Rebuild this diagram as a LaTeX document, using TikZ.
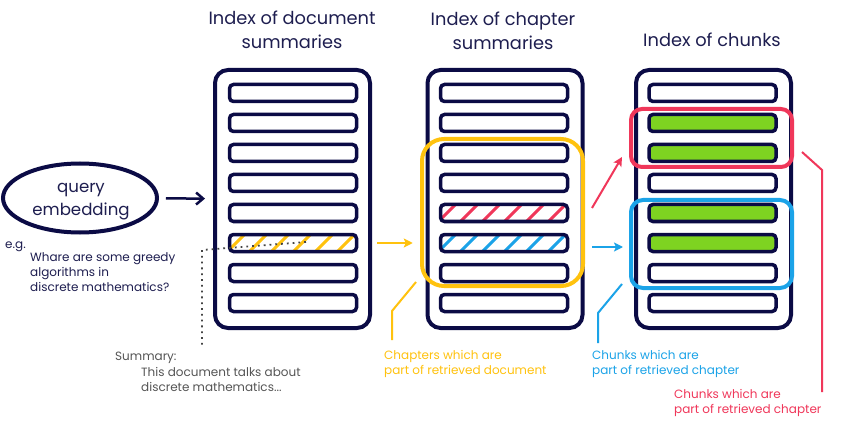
\documentclass[tikz,border=0pt]{standalone}
\usepackage{fontspec}
\setmainfont{Poppins}
\usetikzlibrary{arrows.meta,shapes.geometric}
\definecolor{navy}{HTML}{0B0B45}
\definecolor{titlec}{HTML}{1E1E50}
\definecolor{yellowc}{HTML}{FFC20E}
\definecolor{redc}{HTML}{F0375A}
\definecolor{bluec}{HTML}{1BA3E8}
\definecolor{greenc}{HTML}{7ED321}
\definecolor{greyc}{HTML}{555555}
\tikzset{
  container/.style={draw=navy, line width=4pt, rounded corners=13pt, minimum width=155pt, minimum height=258pt, inner sep=0pt},
  bar/.style={draw=navy, line width=3.5pt, rounded corners=4pt, minimum width=127pt, minimum height=17pt, inner sep=0pt, fill=white},
  plain/.style={},
  hatch/.style={path picture={\foreach \j in {-1,...,6}{\draw[#1, line width=3pt] ([xshift=\j*22pt-2pt]path picture bounding box.south west) -- ++(26pt,26pt);}}},
  yhatch/.style={hatch=yellowc},
  rhatch/.style={hatch=redc},
  bhatch/.style={hatch=bluec},
  gfill/.style={fill=greenc},
  selbox/.style={draw=#1, line width=4pt, inner sep=0pt, minimum width=161pt},
  leader/.style={draw=#1, line width=2pt},
  carrow/.style={draw=#1, line width=2pt, -{Stealth[length=9pt,width=9pt,inset=2pt]}},
  title/.style={font=\fontsize{17.8}{24}\selectfont, text=titlec, align=center, inner sep=0pt, anchor=base},
  lbl/.style={font=\fontsize{12}{15}\selectfont, align=left, inner sep=0pt, anchor=base west},
}
\begin{document}
\begin{tikzpicture}[x=1pt,y=-1pt]
\useasboundingbox[fill=white] (0,0) rectangle (843,422);

% titles (anchor = baseline of last line)
\node[title] (t1) at (292,49) {Index of document\\summaries};
\node[title] (t2) at (503,50) {Index of chapter\\summaries};
\node[title] (t3) at (712,47) {Index of chunks};

% column 1
\node[container] (c1) at (292.5,199) {};
\foreach \k/\s in {1/plain,2/plain,3/plain,4/plain,5/plain,6/yhatch,7/plain,8/plain}
  \node[bar,\s] (c1b\k) at (293,63+30*\k) {};

% column 2
\node[container] (c2) at (505,199) {};
\foreach \k/\s in {1/plain,2/plain,3/plain,4/plain,5/rhatch,6/bhatch,7/plain,8/plain}
  \node[bar,\s] (c2b\k) at (504,63+30*\k) {};

% column 3
\node[container] (c3) at (713.5,199) {};
\foreach \k/\s in {1/plain,2/gfill,3/gfill,4/plain,5/gfill,6/gfill,7/plain,8/plain}
  \node[bar,\s] (c3b\k) at (712.5,63+30*\k) {};

% selection boxes
\node[selbox=yellowc, rounded corners=22pt, minimum height=147pt] (ybox) at (502.5,212.5) {};
\node[selbox=redc, rounded corners=11pt, minimum height=58pt] (rbox) at (711.5,138) {};
\node[selbox=bluec, rounded corners=12pt, minimum height=88pt] (bbox) at (711.5,244) {};

% query
\node[ellipse, draw=navy, line width=4pt, minimum width=154pt, minimum height=69pt, inner sep=0pt] (query) at (80,198) {};
\node[font=\fontsize{16.6}{23}\selectfont, text=titlec, align=center, inner sep=0pt, anchor=base] (qtxt) at (81,215) {query\\embedding};
\draw[navy, line width=2.5pt, shorten <=7pt, shorten >=8pt, -{Straight Barb[length=7pt,width=12pt]}] (query) -- (c1);

% example text
\node[lbl, text=titlec] (eg) at (5,248) {e.g.};
\node[lbl, text=titlec] (egq) at (30,291) {Whare are some greedy\\algorithms in\\discrete mathematics?};

% summary dotted link
\coordinate (d0) at (306,242);
\coordinate (d1) at (202,250);
\coordinate (d2) at (202,348);
\draw[color=greyc!80!black, line width=1.8pt, dash pattern=on 1.8pt off 4pt] (d0) -- (d1) -- (d2);
\node[lbl, text=greyc] (sum) at (115,360) {Summary:};
\node[lbl, text=greyc] (sumt) at (141,391) {This document talks about\\discrete mathematics...};

% arrows between columns
\draw[carrow=yellowc, shorten <=19pt, shorten >=26pt] (c1b6.east) -- (c2b6.west);
\coordinate (ra0) at (592,208);
\coordinate (ra1) at (622,157);
\draw[carrow=redc] (ra0) -- (ra1);
\coordinate (ba0) at (592,247);
\coordinate (ba1) at (623,247);
\draw[carrow=bluec] (ba0) -- (ba1);

% leaders
\coordinate (yl0) at (416,282);
\coordinate (yl1) at (392,311);
\coordinate (yl2) at (392,340);
\draw[leader=yellowc] (yl0) -- (yl1) -- (yl2);
\node[lbl, text=yellowc] (ytxt) at (384,374) {Chapters which are\\part of retrieved document};

\coordinate (bl0) at (622,284);
\coordinate (bl1) at (598,313);
\coordinate (bl2) at (598,343);
\draw[leader=bluec] (bl0) -- (bl1) -- (bl2);
\node[lbl, text=bluec] (btxt) at (592,374) {Chunks which are\\part of retrieved chapter};

\coordinate (rl0) at (802,152);
\coordinate (rl1) at (822,170);
\coordinate (rl2) at (822,392);
\draw[leader=redc] (rl0) -- (rl1) -- (rl2);
\node[lbl, text=redc] (rtxt) at (674,413) {Chunks which are\\part of retrieved chapter};
\end{tikzpicture}
\end{document}
